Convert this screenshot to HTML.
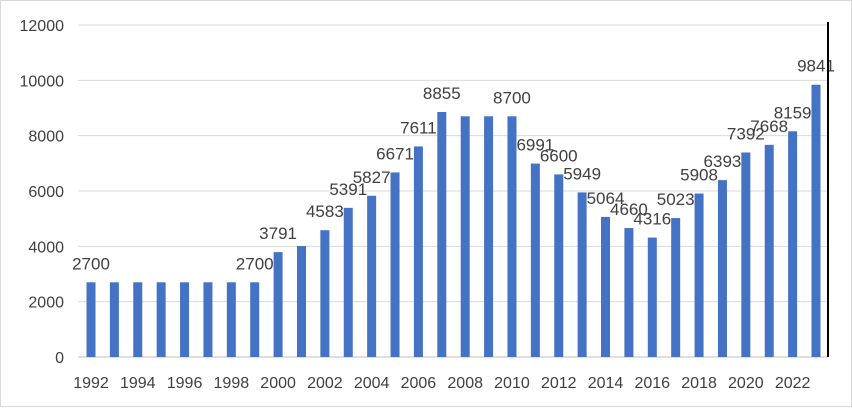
<!DOCTYPE html>
<html><head><meta charset="utf-8"><style>
html,body{margin:0;padding:0;background:#fff}
svg text{font-family:"Liberation Sans",sans-serif;fill:#404040}
</style></head><body>
<svg width="852" height="407" viewBox="0 0 852 407">
<rect x="0.5" y="0.5" width="851" height="406" fill="#fff" stroke="#d9d9d9"/>
<g id="grid"></g><g id="bars"></g><g id="labels"></g><g id="axes"></g>
</svg>
<script>
const years=[1992,1993,1994,1995,1996,1997,1998,1999,2000,2001,2002,2003,2004,2005,2006,2007,2008,2009,2010,2011,2012,2013,2014,2015,2016,2017,2018,2019,2020,2021,2022,2023];
const values=[2700,2700,2700,2700,2700,2700,2700,2700,3791,4010,4583,5391,5827,6671,7611,8855,8700,8700,8700,6991,6600,5949,5064,4660,4316,5023,5908,6393,7392,7668,8159,9841];
const showLabel=[1,0,0,0,0,0,0,1,1,0,1,1,1,1,1,1,0,0,1,1,1,1,1,1,1,1,1,1,1,1,1,1];
const yTicks=[0,2000,4000,6000,8000,10000,12000];
const NS="http://www.w3.org/2000/svg";
const x0=78,x1=828,yb=357,yt=25,yMax=12000;
const y=v=>yb-(v/yMax)*(yb-yt);
const step=(816-91)/(years.length-1);
const x=i=>91+i*step;
function mk(t,a,p){const e=document.createElementNS(NS,t);for(const k in a)e.setAttribute(k,a[k]);p.appendChild(e);return e;}
const G=document.getElementById('grid'),B=document.getElementById('bars'),L=document.getElementById('labels'),A=document.getElementById('axes');
yTicks.forEach(t=>{
 const l=mk('line',{x1:x0,x2:x1,y1:y(t),y2:y(t),stroke:t===0?'#bfbfbf':'#d9d9d9','stroke-width':1},G);
 
 
 const tx=mk('text',{x:64,y:y(t)+6,'text-anchor':'end','font-size':16},A);
 tx.textContent=t;
 
 
});
const ax=mk('line',{x1:x1,x2:x1,y1:yt-3,y2:yb,stroke:'#000','stroke-width':2},A);


years.forEach((yr,i)=>{
 const v=values[i];
 const r=mk('rect',{x:x(i)-4.5,y:y(v),width:9,height:yb-y(v),fill:'#4472c4'},B);
 
 
 if(showLabel[i]){
  const t=mk('text',{x:x(i),y:y(v)-13,'text-anchor':'middle','font-size':17},L);
  t.textContent=v;
  
  
 }
 if(i%2===0){
  const t=mk('text',{x:x(i),y:388,'text-anchor':'middle','font-size':16},A);
  t.textContent=yr;
  
  
 }
});
</script>
</body></html>
